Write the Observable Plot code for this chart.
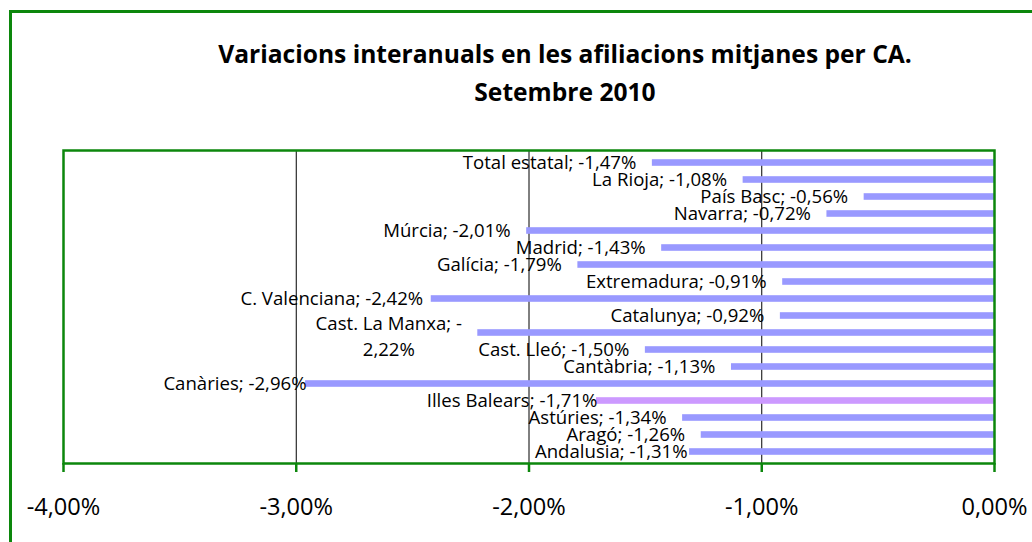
<!DOCTYPE html>
<html>
<head>
<meta charset="utf-8">
<script src="https://cdn.jsdelivr.net/npm/d3@7"></script>
<script src="https://cdn.jsdelivr.net/npm/@observablehq/plot@0.6"></script>
<style>
  body { margin: 0; background: #fff; }
  #wrap { position: relative; width: 1032px; height: 542px; overflow: hidden; font-family: "Open Sans", sans-serif; background: #fff; }
  #frame { position: absolute; left: 9px; top: 10px; width: 1200px; height: 700px;
           border-left: 3px solid #0c870c; border-top: 3px solid #0c870c; }
  #title { position: absolute; left: 100px; width: 930px; top: 35px; text-align: center;
           font-weight: bold; font-size: 24.6px; line-height: 38px; color: #000; }
  #chart { position: absolute; left: 0; top: 120px; }
</style>
</head>
<body>
<div id="wrap">
  <div id="frame"></div>
  <div id="title">Variacions interanuals en les afiliacions mitjanes per CA.<br>Setembre 2010</div>
  <div id="chart"></div>
</div>
<script>
// Data (top to bottom as drawn)
const regions = ["Total estatal", "La Rioja", "País Basc", "Navarra", "Múrcia", "Madrid", "Galícia",
  "Extremadura", "C. Valenciana", "Catalunya", "Cast. La Manxa", "Cast. Lleó", "Cantàbria",
  "Canàries", "Illes Balears", "Astúries", "Aragó", "Andalusia"];
const variation = [-1.47, -1.08, -0.56, -0.72, -2.01, -1.43, -1.79,
  -0.91, -2.42, -0.92, -2.22, -1.50, -1.13,
  -2.96, -1.71, -1.34, -1.26, -1.31];
const xTicks = [-4, -3, -2, -1, 0];
const highlighted = "Illes Balears";

const fmt = v => v.toFixed(2).replace(".", ",") + "%";
const data = regions.map((name, i) => ({name, value: variation[i], label: name + "; " + fmt(variation[i])}));

// label nudges (pixels, relative to bar end)
const defaultDx = -16;
const labelDx = {"C. Valenciana": -8, "Canàries": 1, "Illes Balears": 1, "Andalusia": -2};
const wrapped = "Cast. La Manxa";

const green = "#0c870c";
const fontFamily = "'Open Sans', sans-serif";
const labelSize = 18.6;

const groups = d3.group(data.filter(d => d.name !== wrapped), d => labelDx[d.name] ?? defaultDx);
const labelMarks = Array.from(groups, ([dx, rows]) =>
  Plot.text(rows, {x: "value", y: "name", text: "label", textAnchor: "end", dx, fontSize: labelSize, fill: "#000"})
);
const wrappedRow = data.find(d => d.name === wrapped);
labelMarks.push(Plot.text([wrappedRow], {
  x: "value", y: "name",
  text: d => d.name + "; -\n" + fmt(d.value).slice(1),
  textAnchor: "middle", lineAnchor: "middle", lineHeight: 1.4, dx: -89, dy: 2,
  fontSize: labelSize, fill: "#000"
}));

const chart = Plot.plot({
  width: 1032,
  height: 422,
  marginTop: 30,
  marginBottom: 79,
  marginLeft: 63,
  marginRight: 38,
  style: {fontFamily, background: "transparent", overflow: "visible"},
  x: {domain: [-4, 0], ticks: xTicks, tickFormat: fmt},
  y: {domain: regions, padding: 0, axis: null},
  marks: [
    Plot.ruleX([-3, -2, -1], {stroke: "#000", strokeWidth: 1}),
    Plot.barX(data.filter(d => d.name !== highlighted), {x: "value", y: "name", fill: "#9999ff", insetTop: 5.2, insetBottom: 5.2}),
    Plot.barX(data.filter(d => d.name === highlighted), {x: "value", y: "name", fill: "#cc99ff", insetTop: 5.2, insetBottom: 5.2}),
    ...labelMarks,
    Plot.frame({stroke: green, strokeWidth: 2.5}),
    Plot.axisX({ticks: xTicks, tickFormat: fmt, tickSize: 9, tickPadding: 26, stroke: green, strokeWidth: 2.5,
                fill: "#000", fontSize: 23.6, label: null})
  ]
});
document.getElementById("chart").appendChild(chart);
</script>
</body>
</html>
